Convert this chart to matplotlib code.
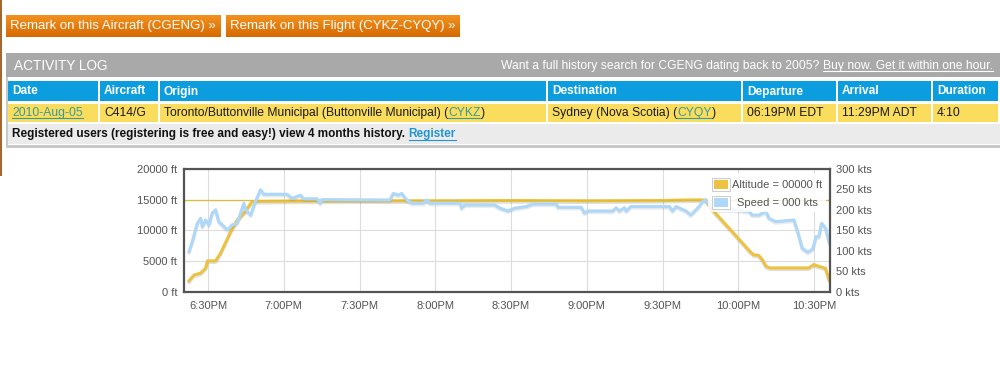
import matplotlib
matplotlib.use('Agg')
import matplotlib.pyplot as plt
import matplotlib.transforms as mtransforms
from matplotlib.patches import Rectangle
import numpy as np

plt.rcParams['font.family'] = ['Liberation Sans', 'DejaVu Sans']

# ------------------------------
# DATA
# ------------------------------
buttons = ["Remark on this Aircraft (CGENG) \u00bb", "Remark on this Flight (CYKZ-CYQY) \u00bb"]
log_title = "ACTIVITY LOG"
promo_text = "Want a full history search for CGENG dating back to 2005?"
promo_link = "Buy now. Get it within one hour."
columns = ["Date", "Aircraft", "Origin", "Destination", "Departure", "Arrival", "Duration"]
# each cell: list of (text, is_link)
flight_row = [
    [("2010-Aug-05", True)],
    [("C414/G", False)],
    [("Toronto/Buttonville Municipal (Buttonville Municipal) (", False), ("CYKZ", True), (")", False)],
    [("Sydney (Nova Scotia) (", False), ("CYQY", True), (")", False)],
    [("06:19PM EDT", False)],
    [("11:29PM ADT", False)],
    [("4:10", False)],
]
register_text = "Registered users (registering is free and easy!) view 4 months history."
register_link = "Register"

# minutes after 6:00PM
alt_min = [22.5, 24.5, 27.1, 29.1, 29.8, 33.0, 35.0, 39.0, 41.6, 44.2, 45.6, 47.5,
           60, 90, 120, 150, 180, 210, 220, 227.1, 229.8, 237.6, 244.5, 246, 248,
           249.5, 251, 252.5, 267.9, 269.9, 271.9, 274.5, 276]
alt_ft = [1750, 2700, 3000, 3800, 5000, 5000, 6250, 9770, 11680, 12770, 13580, 14700,
          14750, 14800, 14800, 14850, 14800, 14850, 14950, 14950, 13300, 9770, 6600, 6000, 5900,
          5200, 4100, 3850, 3850, 4400, 4100, 3800, 1900]

spd_min = [22.5, 23.8, 25.8, 27.1, 27.8, 29.1, 30.4, 31.7, 33.0, 34.3, 36.3, 37.7, 39.6,
           41.6, 44.2, 44.9, 46.9, 48.8, 50.8, 52.1, 61.3, 63.3, 66.6, 67.9, 73.2, 74.5,
           75.1, 102, 103.4, 105.4, 106.7, 108.7, 110.7, 115.3, 116.6, 117.9, 130.0,
           130.4, 131.7, 143.6, 145.6, 148.8, 151.5, 156.0, 158.7, 168.0, 168.6, 177.8,
           179.1, 180.4, 190.3, 191.6, 192.9, 194.9, 195.6, 197.5, 212.7, 214.0, 215.3,
           219.3, 221.2, 223.2, 224.5, 225.8, 227.1, 229.0, 231.0, 237.6, 244.3, 245.6,
           248.2, 250.9, 252.2, 254.8, 262.0, 263.5, 265.3, 267.5, 269.5, 270.8, 271.9,
           273.0, 274.6, 276.0]
spd_kts = [98, 122, 167, 179, 159, 175, 163, 192, 200, 171, 159, 151, 163,
           167, 216, 200, 187, 220, 249, 238, 238, 228, 236, 227, 227, 216,
           225, 224, 240, 236, 240, 224, 216, 216, 224, 216, 216,
           204, 212, 212, 204, 197, 204, 208, 214, 214, 206, 206,
           192, 197, 197, 205, 197, 205, 197, 208, 208, 197, 208,
           197, 187, 200, 208, 220, 224, 212, 200, 200, 196, 187,
           187, 196, 179, 171, 175, 147, 106, 96, 104, 134, 134,
           167, 155, 120]

filed_alt = 15000
time_ticks = [30, 60, 90, 120, 150, 180, 210, 240, 270]
time_labels = ["6:30PM", "7:00PM", "7:30PM", "8:00PM", "8:30PM", "9:00PM", "9:30PM", "10:00PM", "10:30PM"]
alt_ticks = [0, 5000, 10000, 15000, 20000]
spd_ticks = [0, 50, 100, 150, 200, 250, 300]
legend_labels = ["Altitude = 00000 ft", "Speed = 000 kts"]

# colours
orange_top, orange_bot = "#f2921f", "#d66a02"
gray_bar = "#a9a9a9"
blue_hdr = "#0c9ddf"
yellow_row = "#fadd5c"
light_row = "#ebebeb"
link_col = "#3a9a98"
reg_col = "#2196d3"
alt_col = "#edc240"
spd_col = "#afd8f8"
axis_col = "#545454"

# ------------------------------
# FIGURE
# ------------------------------
fig = plt.figure(figsize=(10, 3.82), dpi=100)
renderer = fig.canvas.get_renderer()

# chart
ax = fig.add_axes([184 / 1000, 1 - 291.5 / 382, (830 - 184) / 1000, (291.5 - 169) / 382])
ax2 = ax.twinx()

shadow = mtransforms.offset_copy(ax.transData, fig=fig, x=0, y=-1.5, units='dots')
ax.plot(alt_min, alt_ft, color='black', alpha=0.12, lw=2.4, transform=shadow, solid_joinstyle='round')
ax.plot(alt_min, alt_ft, color=alt_col, lw=2.2, solid_joinstyle='round')
ax.axhline(filed_alt, color='#dcbc3a', lw=0.9)

shadow2 = mtransforms.offset_copy(ax2.transData, fig=fig, x=0, y=-1.5, units='dots')
ax2.plot(spd_min, spd_kts, color='black', alpha=0.08, lw=2.4, transform=shadow2, solid_joinstyle='round')
ax2.plot(spd_min, spd_kts, color=spd_col, lw=2.3, solid_joinstyle='round')

ax.set_xlim(20.5, 276.3)
ax.set_ylim(0, 20000)
ax2.set_ylim(0, 300)
ax.set_xticks(time_ticks)
ax.set_xticklabels(time_labels)
ax.set_yticks(alt_ticks)
ax.set_yticklabels([f"{v} ft" for v in alt_ticks])
ax2.set_yticks(spd_ticks)
ax2.set_yticklabels([f"{v} kts" for v in spd_ticks])
ax.grid(True, color='#dcdcdc', lw=0.8)
ax.tick_params(length=0, labelsize=8, labelcolor=axis_col, pad=5)
ax.tick_params(axis='x', pad=7)
ax2.tick_params(length=0, labelsize=8, labelcolor=axis_col, pad=4)
for s in ax.spines.values():
    s.set_visible(False)
for s in ax2.spines.values():
    s.set_color(axis_col)
    s.set_linewidth(1.6)

# page overlay in pixel coordinates
pg = fig.add_axes([0, 0, 1, 1])
pg.set_xlim(0, 1000)
pg.set_ylim(382, 0)
pg.axis('off')
pg.patch.set_alpha(0)


def box(x0, y0, x1, y1, color, **kw):
    pg.add_patch(Rectangle((x0, y0), x1 - x0, y1 - y0, facecolor=color, edgecolor='none', **kw))


def text_run(x, y, parts, size=8.7, weight='normal'):
    for txt, color, underline in parts:
        t = pg.text(x, y, txt, color=color, fontsize=size, fontweight=weight, va='center', ha='left')
        bb = t.get_window_extent(renderer).transformed(pg.transData.inverted())
        if underline:
            pg.plot([bb.x0, bb.x1], [y + 5, y + 5], color=color, lw=0.8)
        x = bb.x1
    return x


# left brown rule
box(0, 0, 2, 176, "#a5682c")

# buttons with gradient
grad = np.linspace(0, 1, 50).reshape(-1, 1)
cmap = matplotlib.colors.LinearSegmentedColormap.from_list("btn", [orange_top, orange_bot])
btn_x = [(6, 221), (226, 460)]
for (x0, x1), label in zip(btn_x, buttons):
    pg.imshow(grad, extent=(x0, x1, 37, 15), cmap=cmap, aspect='auto', zorder=1)
    pg.text(x0 + 4, 26.5, label, color='white', fontsize=9.5, va='center', ha='left', zorder=2)
pg.set_xlim(0, 1000)
pg.set_ylim(382, 0)

# activity log container
box(6, 53, 1000, 148, "#c8c8c8")
box(8, 53, 1000, 145, "white")
box(6, 53, 1000, 77, gray_bar)
pg.text(14, 65.5, log_title, color='white', fontsize=9.8, va='center', ha='left')
t = pg.text(993, 65.5, promo_link, color='white', fontsize=8.7, va='center', ha='right')
bb = t.get_window_extent(renderer).transformed(pg.transData.inverted())
pg.plot([bb.x0, bb.x1], [70.5, 70.5], color='white', lw=0.8)
pg.text(bb.x0 - 3.5, 65.5, promo_text, color='white', fontsize=8.7, va='center', ha='right')

col_x = [8, 100, 160, 548, 743, 838, 933, 1000]
for i, name in enumerate(columns):
    box(col_x[i], 81, col_x[i + 1] - 2, 101, blue_hdr)
    box(col_x[i], 104, col_x[i + 1] - 2, 122, yellow_row)
    pg.text(col_x[i] + 4, 91.5, name, color='white', fontsize=8.6, fontweight='bold', va='center', ha='left')
    parts = [(txt, link_col if lk else '#1a1a1a', lk) for txt, lk in flight_row[i]]
    text_run(col_x[i] + 4, 113, parts)
box(8, 124, 1000, 144, light_row)
xr = text_run(12, 134.5, [(register_text, '#111111', False)], size=8.5, weight='bold')
text_run(xr + 3.5, 134.5, [(register_link, reg_col, True)], size=8.5, weight='bold')

# legend
box(708, 173, 826, 212, "white", alpha=0.85)
for k, (col, label) in enumerate(zip([alt_col, spd_col], legend_labels)):
    yc = 184.5 + k * 18
    pg.add_patch(Rectangle((711.5, yc - 7), 18, 13, facecolor='white', edgecolor='#cccccc', lw=0.7))
    box(713.5, yc - 5, 727.5, yc + 4, col)
    pg.text(777.5, yc, label, color=axis_col, fontsize=8, va='center', ha='center')

fig.savefig('out.png', dpi=100)
